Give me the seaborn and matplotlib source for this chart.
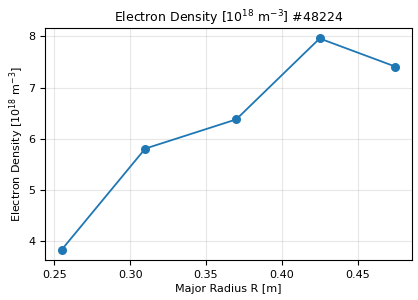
import seaborn as sns
import pandas as pd
import matplotlib
matplotlib.use("Agg")
import matplotlib.pyplot as plt

radius = [0.255, 0.31, 0.37, 0.425, 0.475]
density = [3.84, 5.81, 6.38, 7.96, 7.41]
shot = 48224

df = pd.DataFrame({"R": radius, "ne": density})

plt.rcParams['font.family'] = ['DejaVu Sans']
plt.rcParams['font.size'] = 8

fig, ax = plt.subplots(figsize=(4.18, 3.0), dpi=100)
sns.lineplot(data=df, x="R", y="ne", marker="o", markersize=6.5, markeredgewidth=0,
             color="#1f77b4", linewidth=1.3, ax=ax)
ax.grid(True, alpha=0.3)
ax.set_title(r"Electron Density [$10^{18}$ m$^{-3}$] #" + str(shot), fontsize=9, pad=4)
ax.set_xlabel("Major Radius R [m]", fontsize=8, labelpad=3)
ax.set_ylabel(r"Electron Density [$10^{18}$ m$^{-3}$]", fontsize=8, labelpad=2)
ax.set_xticks([0.25, 0.30, 0.35, 0.40, 0.45])
ax.set_yticks([4, 5, 6, 7, 8])
fig.subplots_adjust(left=0.108, right=0.986, top=0.907, bottom=0.133)
fig.savefig("out.png", dpi=100)
